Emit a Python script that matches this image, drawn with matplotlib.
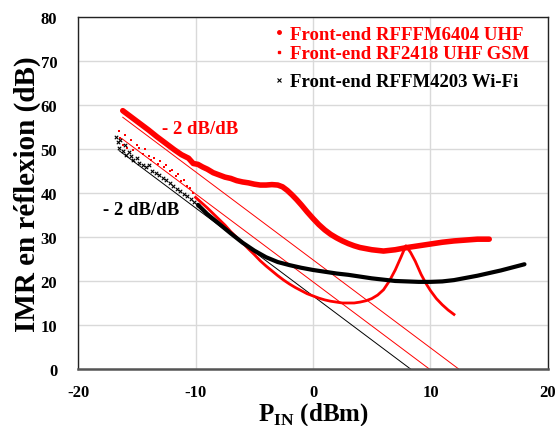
import matplotlib
matplotlib.use("Agg")
import matplotlib.pyplot as plt
from matplotlib.lines import Line2D
import numpy as np

plt.rcParams['font.family'] = ['Liberation Serif', 'DejaVu Serif']
plt.rcParams['font.weight'] = 'bold'
plt.rcParams['axes.unicode_minus'] = False
plt.rcParams['mathtext.fontset'] = 'custom'
plt.rcParams['mathtext.rm'] = 'Liberation Serif:bold'
plt.rcParams['mathtext.bf'] = 'Liberation Serif:bold'

# Series 1: Front-end RFFFM6404 UHF
x1 = [-16.2, -15.5, -14.8, -14.0, -13.3, -12.5, -11.8, -11.2, -10.6, -10.2, -9.8, -9.4, -9.0,
      -8.5, -8.0, -7.5, -7.0, -6.5, -6.0, -5.5, -5.0, -4.5, -4.0, -3.5, -3.0, -2.6, -2.2, -1.8,
      -1.4, -1.0, -0.5, 0.0, 0.5, 1.0, 1.5, 2.0, 2.5, 3.0, 3.5, 4.0, 5.0, 6.0, 7.0, 8.0, 9.0,
      10.0, 11.0, 12.0, 13.0, 14.0, 15.0]
y1 = [58.7, 57.3, 55.9, 54.3, 52.8, 51.2, 49.8, 48.7, 47.9, 46.7, 46.5, 45.9, 45.4,
      44.6, 44.1, 43.6, 43.3, 42.8, 42.5, 42.3, 42.0, 41.8, 41.8, 41.9, 41.8, 41.4, 40.6, 39.6,
      38.5, 37.3, 35.7, 34.2, 32.8, 31.6, 30.6, 29.8, 29.1, 28.5, 28.0, 27.6, 27.1, 26.8, 27.1,
      27.6, 28.0, 28.4, 28.8, 29.1, 29.3, 29.5, 29.5]

# Series 2: Front-end RF2418 UHF GSM (scattered start, then continuous)
x2s = [-16.5, -16.4, -16.2, -16.0, -15.8, -15.5, -15.3, -15.0, -14.8, -14.5, -14.3, -14.0, -13.8,
       -13.5, -13.2, -13.0, -12.7, -12.5, -12.2, -12.0, -11.7, -11.5, -11.2, -11.0, -10.7, -10.5, -10.2]
y2s = [54.0, 52.5, 51.0, 53.2, 50.2, 52.1, 49.8, 51.0, 50.3, 48.9, 49.9, 48.4, 47.6,
       48.0, 46.5, 47.3, 45.8, 46.3, 44.9, 45.3, 43.8, 44.4, 42.7, 43.0, 41.5, 41.2, 40.0]
x2 = [-10.0, -9.5, -9.0, -8.5, -8.0, -7.5, -7.0, -6.5, -6.0, -5.5, -5.0, -4.5, -4.0, -3.5, -3.0,
      -2.5, -2.0, -1.5, -1.0, -0.5, 0.0, 0.5, 1.0, 1.5, 2.0, 2.5, 3.0, 3.5, 4.0, 4.5, 5.0, 5.5,
      6.0, 6.5, 7.0, 7.5, 7.9, 8.3, 8.7, 9.2, 9.6, 10.0, 10.5, 11.0, 11.5, 12.0]
y2 = [39.0, 37.8, 36.6, 35.3, 34.0, 32.7, 31.2, 29.9, 28.7, 27.3, 26.0, 24.6, 23.4, 22.3, 21.2,
      20.2, 19.3, 18.5, 17.8, 17.1, 16.6, 16.1, 15.7, 15.4, 15.2, 15.0, 15.0, 15.0, 15.2, 15.5,
      16.0, 16.8, 18.0, 20.0, 22.5, 25.5, 28.0, 26.5, 24.5, 21.5, 19.5, 17.8, 16.0, 14.6, 13.4, 12.4]

# Series 3: Front-end RFFM4203 Wi-Fi
x3s = [-16.8, -16.6, -16.5, -16.4, -16.2, -16.0, -15.9, -15.7, -15.5, -15.3, -15.0, -14.8, -14.5,
       -14.2, -14.0, -13.7, -13.4, -13.1, -12.8, -12.5, -12.2, -11.9, -11.6, -11.3, -11.0, -10.7,
       -10.4, -10.1, -9.8]
y3s = [52.7, 51.5, 50.3, 52.0, 49.5, 50.8, 48.6, 49.4, 48.3, 47.5, 48.0, 46.9, 46.4,
       45.8, 46.3, 45.0, 44.6, 44.0, 43.3, 43.0, 42.2, 41.6, 41.0, 40.5, 39.8, 39.2,
       38.6, 37.9, 37.3]
x3 = [-9.8, -9.0, -8.0, -7.0, -6.0, -5.0, -4.0, -3.0, -2.0, -1.0, 0.0, 1.0, 2.0, 3.0, 4.0, 5.0,
      6.0, 7.0, 8.0, 9.0, 10.0, 11.0, 12.0, 13.0, 14.0, 15.0, 16.0, 17.0, 18.0]
y3 = [37.3, 35.2, 33.0, 30.8, 28.7, 26.9, 25.4, 24.3, 23.6, 23.0, 22.5, 22.1, 21.7, 21.4, 21.0,
      20.6, 20.3, 20.0, 19.9, 19.8, 19.8, 19.9, 20.2, 20.7, 21.2, 21.8, 22.4, 23.1, 23.8]

# -2 dB/dB reference lines: zero crossing and start abscissa
ref_x0 = [8.3, 9.9, 12.4]
ref_start = [-16.5, -16.3, -16.2]
ref_colors = ['black', 'red', 'red']
slope = -2.0

labels = ['Front-end RFFFM6404 UHF', 'Front-end RF2418 UHF GSM', 'Front-end RFFM4203 Wi-Fi']

fig = plt.figure(figsize=(5.58, 4.27), dpi=100)
ax = fig.add_axes([0.14, 0.1335, 0.842, 0.8245])

for x0, xs, c in zip(ref_x0, ref_start, ref_colors):
    xx = np.array([xs, x0])
    ax.plot(xx, slope * (xx - x0), color=c, lw=0.7, zorder=2)

ax.plot(x1, y1, color='red', lw=4.0, solid_capstyle='round', zorder=3)
ax.scatter(x2s, y2s, s=4, color='red', marker='s', linewidths=0, zorder=3)
ax.plot(x2, y2, color='red', lw=2.0, zorder=3)
ax.scatter(x3s, y3s, s=6, color='black', marker='x', linewidths=0.8, zorder=3)
ax.plot(x3, y3, color='black', lw=3.0, solid_capstyle='round', zorder=3)

ax.text(-12.9, 54.6, '- 2 dB/dB', color='red', fontsize=13.5, fontweight='bold', va='center')
ax.text(-17.85, 36.2, '- 2 dB/dB', color='black', fontsize=13.5, fontweight='bold', va='center')

ax.set_xlim(-20, 20)
ax.set_ylim(0, 80)
ax.set_xticks([-20, -10, 0, 10, 20])
ax.set_yticks(range(0, 81, 10))
ax.grid(True, color='#d9d9d9', lw=1.0)
ax.set_axisbelow(True)
ax.tick_params(length=0, labelsize=12)
ax.tick_params(axis='x', pad=11)
ax.tick_params(axis='y', pad=15)
for lab in ax.get_xticklabels() + ax.get_yticklabels():
    lab.set_fontweight('bold')
for s in ax.spines.values():
    s.set_color('#222222')
    s.set_linewidth(1.0)
ax.spines['bottom'].set_color('#555555')
ax.spines['bottom'].set_linewidth(1.8)

ax.set_xlabel(r'P$_{\mathbf{IN}}$ (dBm)', fontsize=18, fontweight='bold', labelpad=0)
ax.set_ylabel('IMR en réflexion (dB)', fontsize=21, fontweight='bold', labelpad=0)

handles = [Line2D([], [], ls='none', marker='o', ms=2.5, color='red'),
           Line2D([], [], ls='none', marker='s', ms=1.8, color='red'),
           Line2D([], [], ls='none', marker='x', ms=3, mew=0.8, color='black')]
common = dict(loc='upper left', frameon=False, handlelength=0.4, handletextpad=0.35,
              borderpad=0, borderaxespad=0, labelspacing=0.12,
              prop={'weight': 'bold', 'size': 13.5})
leg1 = ax.legend(handles[:2], labels[:2], bbox_to_anchor=(0.42, 0.975), **common)
for t in leg1.get_texts():
    t.set_color('red')
ax.add_artist(leg1)
leg2 = ax.legend(handles[2:], labels[2:], bbox_to_anchor=(0.42, 0.840), **common)
leg2.get_texts()[0].set_color('black')

fig.savefig('out.png', dpi=100)
